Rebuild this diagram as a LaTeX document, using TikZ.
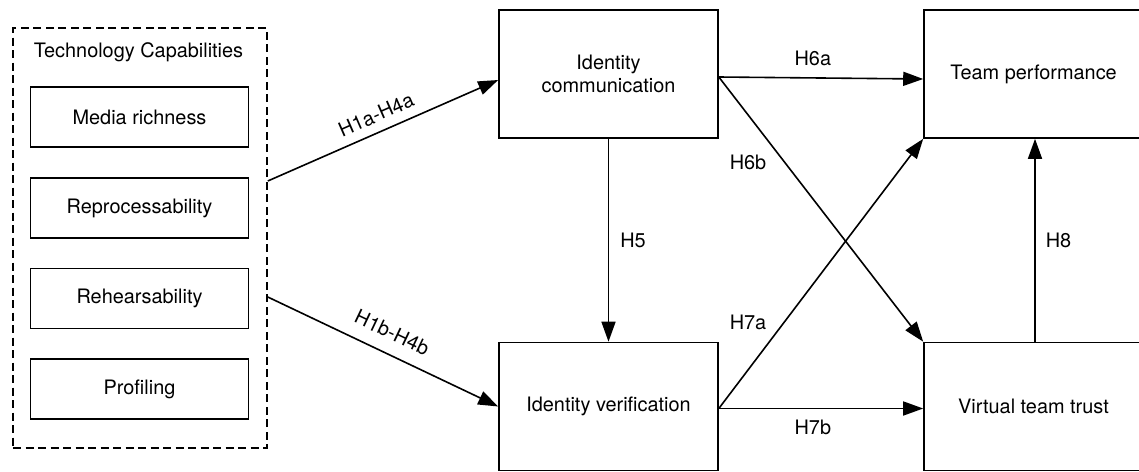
\documentclass[tikz,border=0pt]{standalone}
\usepackage{fontspec}
\setmainfont{TeX Gyre Heros}
\usetikzlibrary{arrows.meta,calc}
\begin{document}
\begin{tikzpicture}[x=1pt,y=-1pt,
  font=\fontsize{19.9}{23.5}\selectfont,
  box/.style={draw, line width=1.6pt, rectangle, minimum width=219pt, minimum height=128pt, inner sep=0pt, align=center},
  capbox/.style={draw, line width=1.6pt, rectangle, minimum width=218pt, minimum height=60pt, inner sep=0pt},
  groupbox/.style={draw, line width=1.6pt, dash pattern=on 8pt off 4.5pt, rectangle, minimum width=254pt, minimum height=420pt, inner sep=0pt},
  conn/.style={line width=1.6pt, -{Triangle[length=20pt,width=14pt]}},
  lbl/.style={inner sep=0pt}]
\useasboundingbox (0,0) rectangle (1139,471);
% group
\node[groupbox] (tc) at (140,238) {};
\node[lbl] (tctitle) at (138.5,52) {Technology Capabilities};
\node[capbox] (mr) at (139.5,117) {Media richness};
\node[capbox] (rp) at (139.5,208) {Reprocessability};
\node[capbox] (rh) at (139.5,298.5) {Rehearsability};
\node[capbox] (pf) at (139.5,389) {Profiling};
% main boxes
\node[box] (ic) at (608.5,74) {Identity\\communication};
\node[box] (iv) at (608.5,406.5) {Identity verification};
\node[box] (tp) at (1033.5,74) {Team performance};
\node[box] (vt) at (1033.5,406.5) {Virtual team trust};
% connectors
\draw[conn] ([yshift=57pt]tc.east) -- ([yshift=-6pt]ic.west)
  node[lbl, pos=0.5, above=9pt, sloped] {H1a-H4a};
\draw[conn] ([yshift=-59pt]tc.east) -- (iv.west)
  node[lbl, pos=0.5, above=13pt, sloped] {H1b-H4b};
\draw[conn] (ic.south) -- (iv.north)
  node[lbl, midway, right=11pt] {H5};
\draw[conn] ([yshift=-3pt]ic.east) -- ([yshift=-5pt]tp.west)
  node[lbl, pos=0.46, above=11pt] {H6a};
\draw[conn] ([yshift=-3pt]ic.east) -- (vt.north west);
\node[lbl] (h6b) at (748,162) {H6b};
\draw[conn] ([yshift=-2pt]iv.east) -- (tp.south west);
\node[lbl] (h7a) at (748,322) {H7a};
\draw[conn] ([yshift=-2pt]iv.east) -- ([yshift=-2pt]vt.west)
  node[lbl, pos=0.46, below=11pt] {H7b};
\draw[conn] ([xshift=1.5pt]vt.north) -- ([xshift=1.5pt]tp.south)
  node[lbl, midway, right=10pt] {H8};
\end{tikzpicture}
\end{document}
